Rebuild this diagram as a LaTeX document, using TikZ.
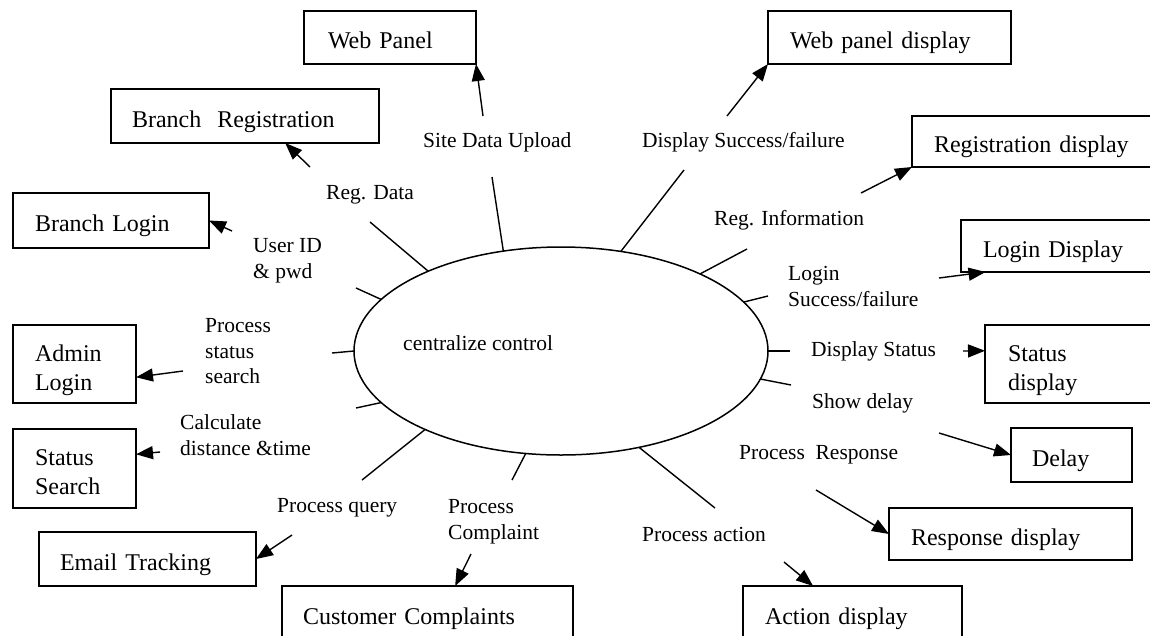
\documentclass[tikz,border=0pt]{standalone}
\usepackage{fontspec}
\setmainfont{Liberation Serif}
\usetikzlibrary{arrows.meta,shapes.geometric,calc}
\tikzset{
  boxnode/.style={draw, line width=1.8pt, rectangle, anchor=north west, align=left,
    inner ysep=0pt, outer sep=0pt, font=\fontsize{24}{29}\selectfont,
    text height=22pt, text depth=0pt},
  twoline/.style={text height=22pt, text depth=28pt},
  lbl/.style={anchor=west, inner sep=0pt, align=left, yshift=-2pt, font=\fontsize{21.5}{25.5}\selectfont},
  stub/.style={line width=1.4pt},
  flow/.style={line width=1.4pt, -{Triangle[length=17pt,width=13pt]}},
}
\begin{document}
\begin{tikzpicture}[x=1pt,y=-1pt]
\useasboundingbox (0,0) rectangle (1150,635);
\clip (0,0) rectangle (1150,635);
\fill[white] (0,0) rectangle (1150,635);

% central process
\node[draw, ellipse, line width=1.5pt, minimum width=414pt, minimum height=208pt, inner sep=0pt, outer sep=0pt] (cc) at (561,351) {};
\node[lbl, yshift=2pt] (cctext) at (403,343) {centralize control};

% boxes
\node[boxnode, inner xsep=24pt, text width=124pt, minimum height=53pt] (webpanel) at (304,11) {Web Panel};
\node[boxnode, inner xsep=21pt, text width=226pt, minimum height=54pt] (branchreg) at (111,89) {Branch~ Registration};
\node[boxnode, inner xsep=22pt, text width=152pt, minimum height=55pt] (branchlogin) at (13,193) {Branch Login};
\node[boxnode, twoline, inner xsep=22pt, text width=79pt, minimum height=78pt] (adminlogin) at (13,325) {Admin\\Login};
\node[boxnode, twoline, inner xsep=22pt, text width=79pt, minimum height=79pt] (statussearch) at (13,429) {Status\\Search};
\node[boxnode, inner xsep=21pt, text width=175pt, minimum height=54pt] (email) at (39,532) {Email Tracking};
\node[boxnode, inner xsep=21pt, text width=249pt, minimum height=54pt] (customer) at (282,586) {Customer Complaints};
\node[boxnode, inner xsep=22pt, text width=175pt, minimum height=54pt] (action) at (743,586) {Action display};
\node[boxnode, inner xsep=22pt, text width=199pt, minimum height=53pt] (webpaneldisp) at (768,11) {Web panel display};
\node[boxnode, inner xsep=22pt, text width=213pt, minimum height=51pt] (regdisp) at (912,116) {Registration display};
\node[boxnode, inner xsep=22pt, text width=164pt, minimum height=52pt] (logindisp) at (961,220) {Login Display};
\node[boxnode, twoline, inner xsep=23pt, text width=134pt, minimum height=78pt] (statusdisp) at (985,325) {Status\\display};
\node[boxnode, inner xsep=21pt, text width=79pt, minimum height=54pt] (delay) at (1011,428) {Delay};
\node[boxnode, inner xsep=22pt, text width=199pt, minimum height=52pt] (respdisp) at (889,508) {Response display};

% labels
\node[lbl] (l1) at (423,140) {Site Data Upload};
\node[lbl] (l2) at (326,193) {Reg. Data};
\node[lbl] (l3) at (253,258.5) {User ID\\\& pwd};
\node[lbl] (l4) at (205,349.5) {Process\\status\\search};
\node[lbl] (l5) at (180,433) {Calculate\\distance \&time};
\node[lbl] (l6) at (277,506) {Process query};
\node[lbl] (l7) at (448,519.5) {Process\\Complaint};
\node[lbl] (l8) at (642,532) {Process action};
\node[lbl] (l9) at (739,453) {Process~ Response};
\node[lbl] (l10) at (812,401) {Show delay};
\node[lbl] (l11) at (811,349) {Display Status};
\node[lbl] (l12) at (788,284.5) {Login\\Success/failure};
\node[lbl] (l13) at (714,218) {Reg. Information};
\node[lbl] (l14) at (642,140) {Display Success/failure};

% stub ends
\coordinate (s1) at (492,177);
\coordinate (s2) at (370,222);
\coordinate (s3) at (356,288);
\coordinate (s4) at (332,353);
\coordinate (s5) at (356,408);
\coordinate (s6) at (362,480);
\coordinate (s7) at (512,480);
\coordinate (s8) at (715,508);
\coordinate (s9) at (791,385);
\coordinate (s10) at (790,351);
\coordinate (s11) at (768,296);
\coordinate (s12) at (747,249);
\coordinate (s13) at (684,170);

\draw[stub] (cc.120.2) -- (s1);
\draw[stub] (cc.149.5) -- (s2);
\draw[stub] (cc.164.1) -- (s3);
\draw[stub] (cc.180) -- (s4);
\draw[stub] (cc.196.2) -- (s5);
\draw[stub] (cc.210.5) -- (s6);
\draw[stub] (cc.251.2) -- (s7);
\draw[stub] (cc.309) -- (s8);
\draw[stub] (cc.352.6) -- (s9);
\draw[stub] (cc.0) -- (s10);
\draw[stub] (cc.15.6) -- (s11);
\draw[stub] (cc.29.7) -- (s12);
\draw[stub] (cc.59.2) -- (s13);

% arrow starts
\coordinate (a1) at (483,116);
\coordinate (a2) at (310,167);
\coordinate (a3) at (232,231);
\coordinate (a4) at (183,371);
\coordinate (a5) at (160,452);
\coordinate (a6) at (292,535);
\coordinate (a7) at (471,554);
\coordinate (a8) at (784,562);
\coordinate (a9) at (816,490);
\coordinate (a10) at (939,433);
\coordinate (a11) at (963,351);
\coordinate (a12) at (939,278);
\coordinate (a13) at (861,193);
\coordinate (a14) at (727,116);

\draw[flow] (a1) -- (webpanel.south east);
\draw[flow] (a2) -- ($(branchreg.south west)!0.65!(branchreg.south east)$);
\draw[flow] (a3) -- (branchlogin.east);
\draw[flow] (a4) -- ($(adminlogin.north east)!0.67!(adminlogin.south east)$);
\draw[flow] (a5) -- ($(statussearch.north east)!0.32!(statussearch.south east)$);
\draw[flow] (a6) -- (email.east);
\draw[flow] (a7) -- ($(customer.north west)!0.595!(customer.north east)$);
\draw[flow] (a8) -- ($(action.north west)!0.32!(action.north east)$);
\draw[flow] (a9) -- (respdisp.west);
\draw[flow] (a10) -- (delay.west);
\draw[flow] (a11) -- ($(statusdisp.north west)!0.33!(statusdisp.south west)$);
\draw[flow] (a12) -- ($(logindisp.south west)!0.118!(logindisp.south east)$);
\draw[flow] (a13) -- (regdisp.south west);
\draw[flow] (a14) -- (webpaneldisp.south west);
\end{tikzpicture}
\end{document}
